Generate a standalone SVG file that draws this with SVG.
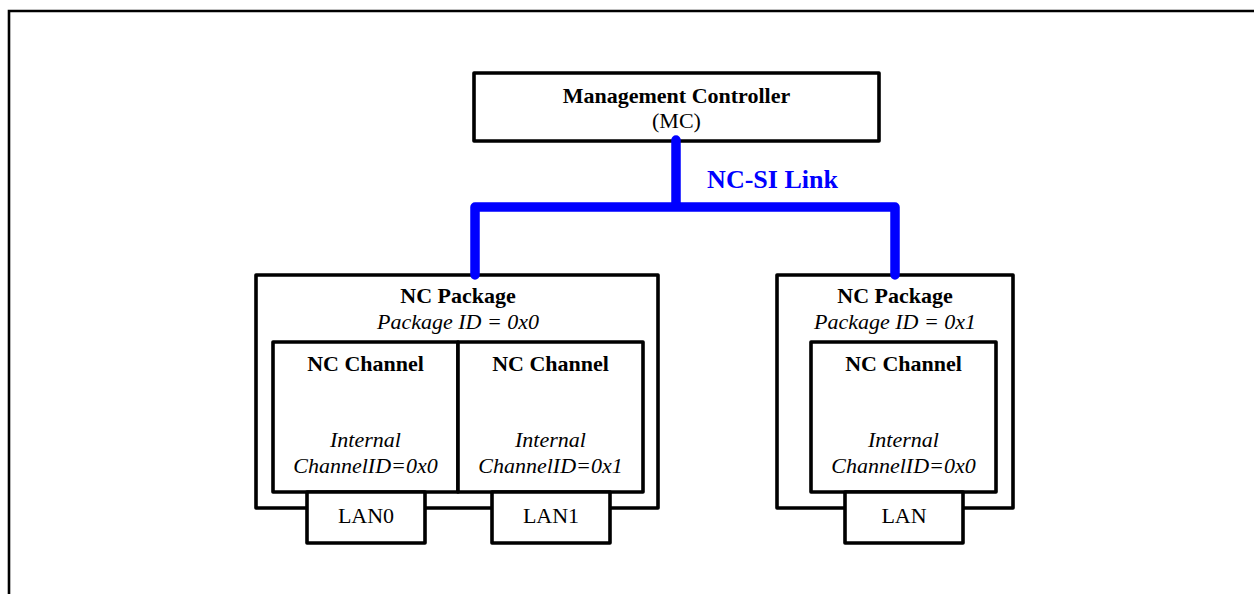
<svg xmlns="http://www.w3.org/2000/svg" width="1254" height="594" viewBox="0 0 1254 594">
<style>
.box{fill:#fff;stroke:#000;stroke-width:3.6;stroke-linejoin:round}
.frame{fill:none;stroke:#000;stroke-width:2.6}
text{font-family:"Liberation Serif","Times New Roman",serif;font-size:22px;text-anchor:middle;fill:#000}
.b{font-weight:bold}
.i{font-style:italic}
.link{fill:none;stroke:#0000ff;stroke-width:9.5;stroke-linecap:round;stroke-linejoin:round}
.lbl{fill:#0000ff;font-weight:bold;font-size:26px}
</style>
<rect width="1254" height="594" fill="#fff"/>
<path class="frame" d="M1256,11 H9 V596"/>
<g id="mc">
<rect class="box" x="474" y="73" width="405" height="68"/>
<text class="b" x="676.5" y="103">Management Controller</text>
<text x="676.5" y="128">(MC)</text>
</g>
<g id="pkg0">
<rect class="box" x="256" y="275" width="402" height="233"/>
<text class="b" x="458" y="303">NC Package</text>
<text class="i" x="458" y="329">Package ID = 0x0</text>
</g>
<g id="ch0">
<rect class="box" x="273" y="342" width="185" height="150"/>
<text class="b" x="365.5" y="371">NC Channel</text>
<text class="i" x="365.5" y="447">Internal</text>
<text class="i" x="365.5" y="473">ChannelID=0x0</text>
</g>
<g id="ch1">
<rect class="box" x="458" y="342" width="185" height="150"/>
<text class="b" x="550.5" y="371">NC Channel</text>
<text class="i" x="550.5" y="447">Internal</text>
<text class="i" x="550.5" y="473">ChannelID=0x1</text>
</g>
<g id="lan0">
<rect class="box" x="307" y="492" width="118" height="51"/>
<text x="366" y="523">LAN0</text>
</g>
<g id="lan1">
<rect class="box" x="492" y="492" width="118" height="51"/>
<text x="551" y="523">LAN1</text>
</g>
<g id="pkg1">
<rect class="box" x="777" y="275" width="236" height="233"/>
<text class="b" x="895" y="303">NC Package</text>
<text class="i" x="895" y="329">Package ID = 0x1</text>
</g>
<g id="ch2">
<rect class="box" x="811" y="342" width="185" height="150"/>
<text class="b" x="903.5" y="371">NC Channel</text>
<text class="i" x="903.5" y="447">Internal</text>
<text class="i" x="903.5" y="473">ChannelID=0x0</text>
</g>
<g id="lan2">
<rect class="box" x="845" y="492" width="118" height="51"/>
<text x="904" y="523">LAN</text>
</g>
<g id="connectors">
<path class="link" d="M676,140 V207 M475,275 V207 H895 V275"/>
<text class="lbl" x="772.5" y="188">NC-SI Link</text>
</g>
</svg>
